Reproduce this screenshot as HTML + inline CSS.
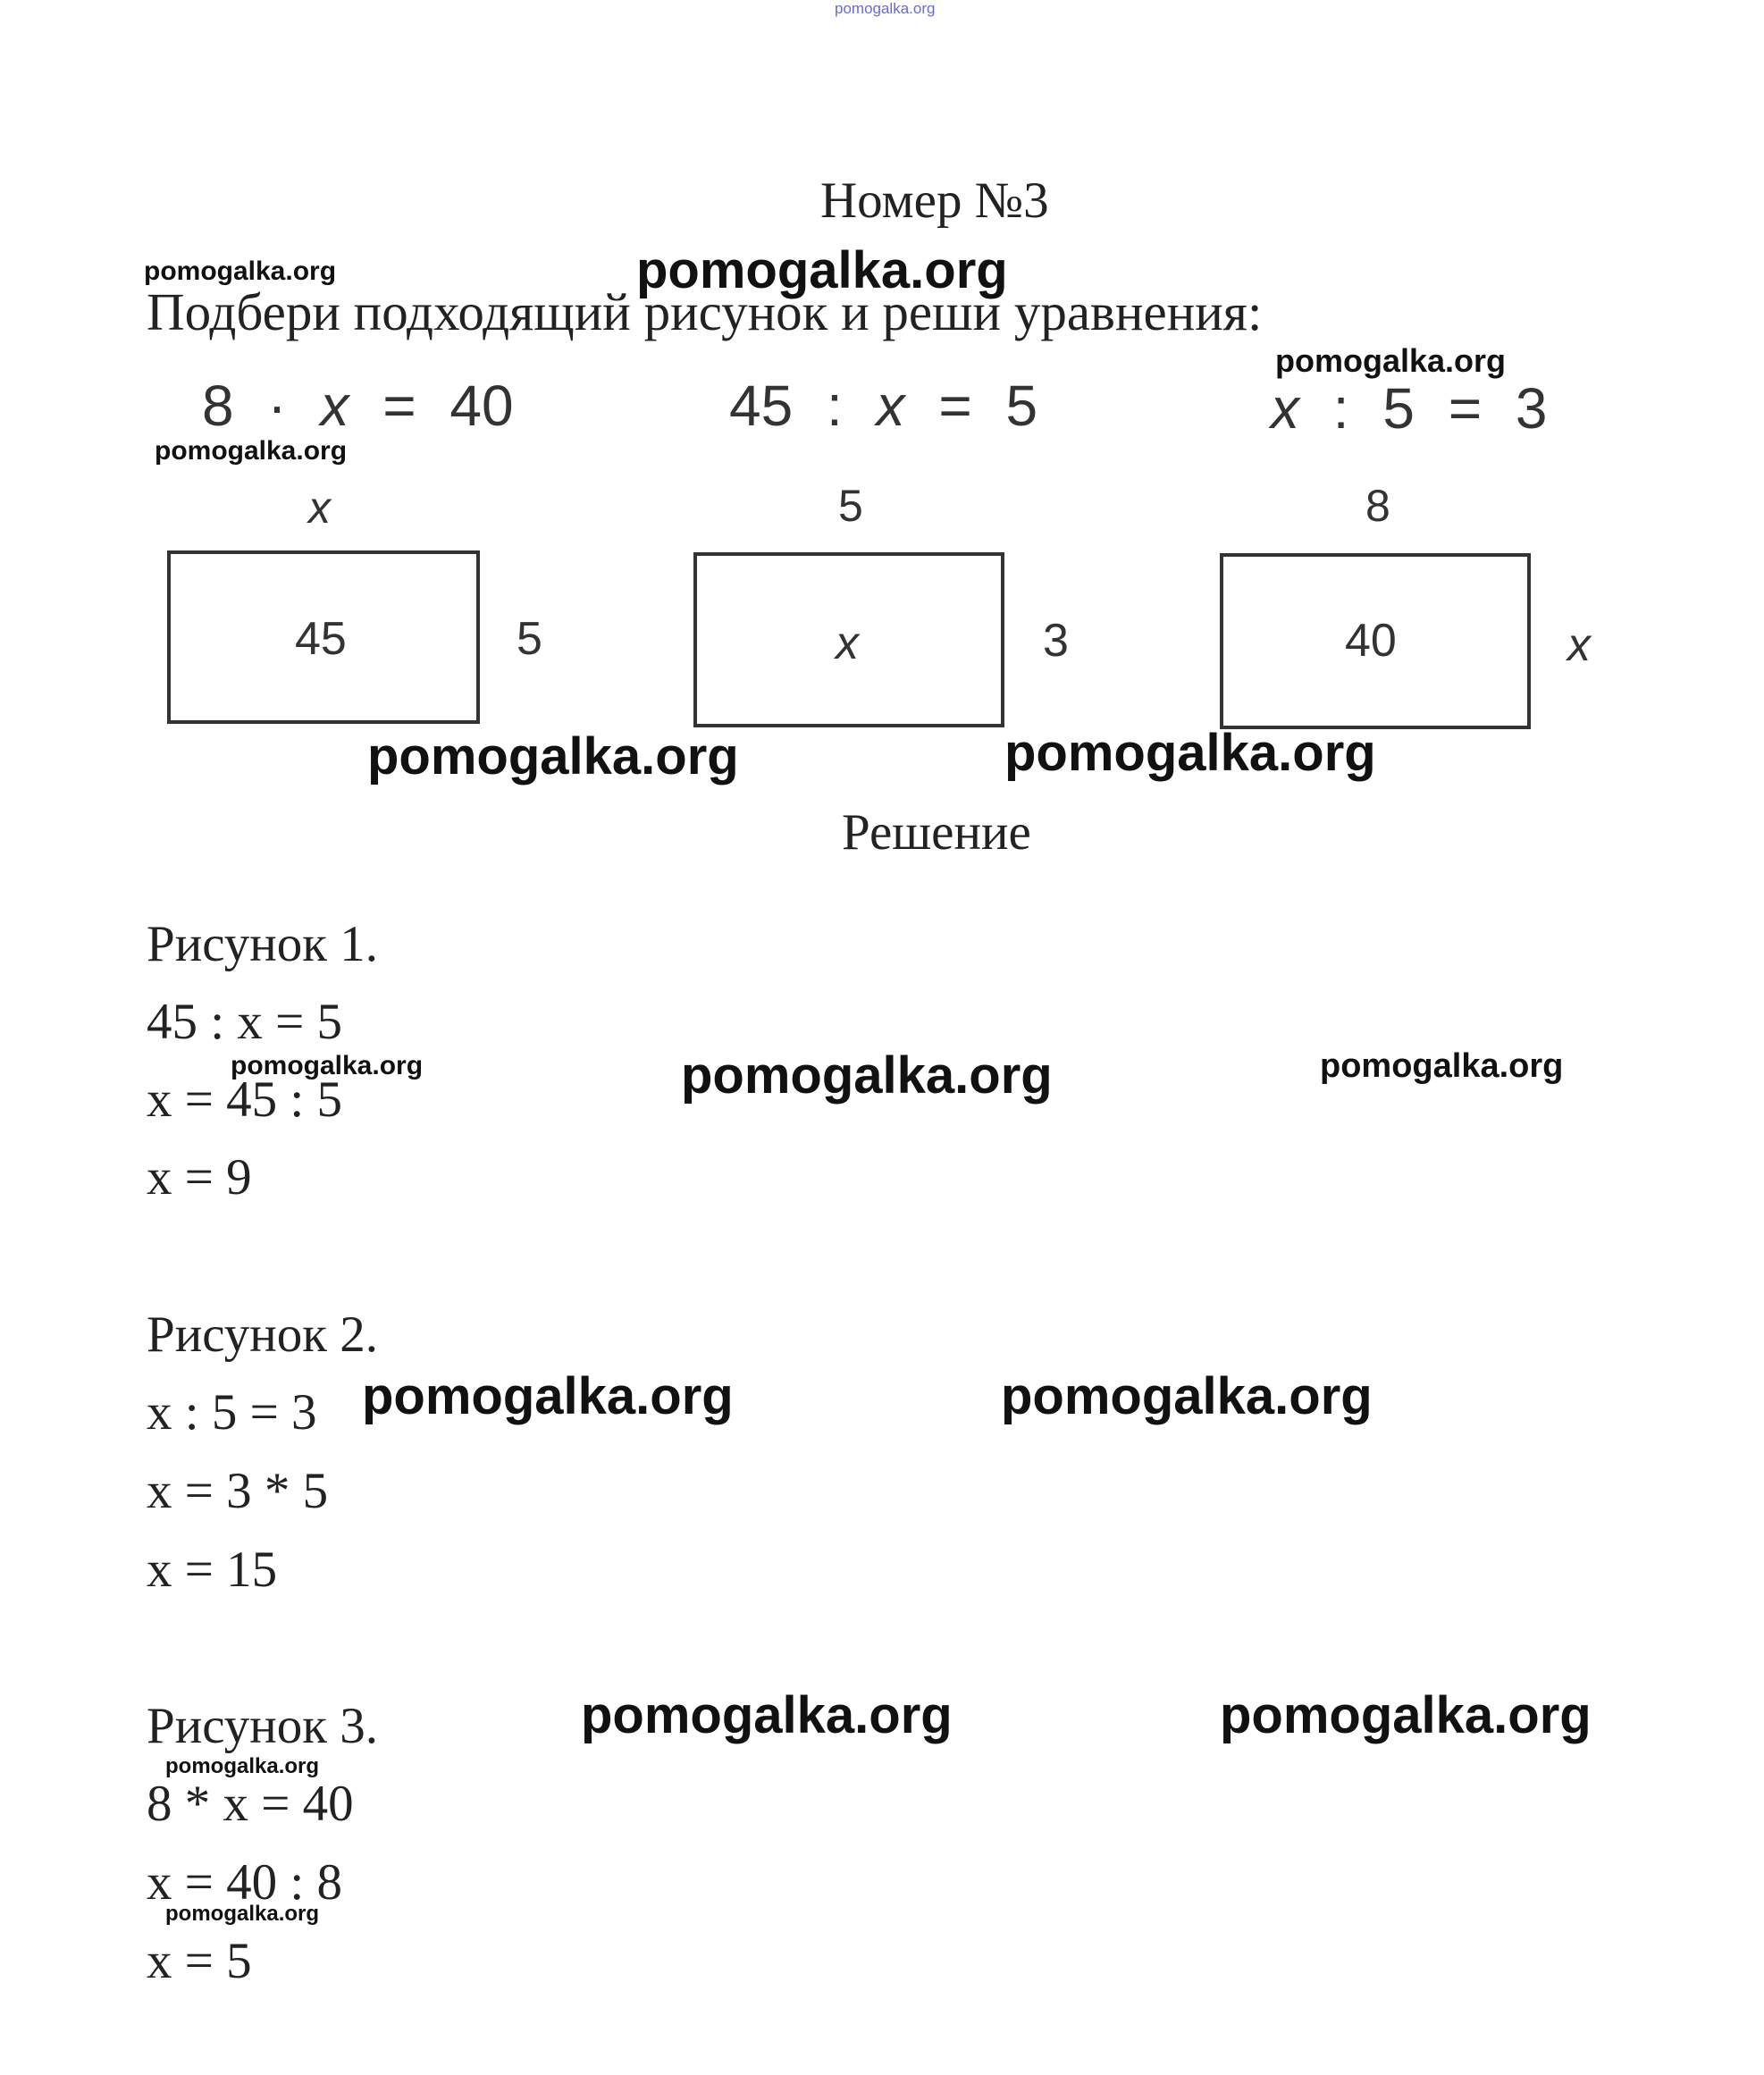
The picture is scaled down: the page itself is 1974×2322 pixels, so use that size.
<!DOCTYPE html>
<html><head><meta charset="utf-8"><style>
body{margin:0;width:1974px;height:2322px;background:#fff;position:relative;overflow:hidden}
.t{position:absolute;white-space:nowrap;line-height:1}
.s{font-family:"Liberation Serif",serif;font-size:57px;color:#222}
.w{font-family:"Liberation Sans",sans-serif;font-weight:bold;color:#111}
.e{font-family:"Liberation Sans",sans-serif;font-size:64px;color:#333}
.q{word-spacing:20px}
.box{position:absolute;border:4px solid #333;box-sizing:border-box}
</style></head><body>
<div class="t w" style="left:934px;top:1px;font-size:17px;color:#6a6ad0;font-weight:normal">pomogalka.org</div>
<div class="t s" style="left:918px;top:196px">Номер №3</div>
<div class="t w" style="left:161px;top:289px;font-size:30px">pomogalka.org</div>
<div class="t w" style="left:712px;top:274px;font-size:58px">pomogalka.org</div>
<div class="t s" style="left:164px;top:320px;font-size:59px">Подбери подходящий рисунок и реши уравнения:</div>
<div class="t w" style="left:1427px;top:386px;font-size:36px">pomogalka.org</div>
<div class="t e q" style="left:226px;top:422px">8 · <i>x</i> = 40</div>
<div class="t e q" style="left:816px;top:422px">45 : <i>x</i> = 5</div>
<div class="t e q" style="left:1422px;top:425px"><i>x</i> : 5 = 3</div>
<div class="t w" style="left:173px;top:490px;font-size:30px">pomogalka.org</div>
<div class="t e" style="left:345px;top:543px;font-size:50px"><i>x</i></div>
<div class="t e" style="left:938px;top:541px;font-size:50px">5</div>
<div class="t e" style="left:1528px;top:541px;font-size:50px">8</div>
<div class="box" style="left:187px;top:616px;width:350px;height:194px"></div>
<div class="box" style="left:776px;top:618px;width:348px;height:196px"></div>
<div class="box" style="left:1365px;top:619px;width:348px;height:197px"></div>
<div class="t e" style="left:330px;top:689px;font-size:52px">45</div>
<div class="t e" style="left:935px;top:694px;font-size:52px"><i>x</i></div>
<div class="t e" style="left:1505px;top:691px;font-size:52px">40</div>
<div class="t e" style="left:578px;top:689px;font-size:52px">5</div>
<div class="t e" style="left:1167px;top:691px;font-size:52px">3</div>
<div class="t e" style="left:1754px;top:696px;font-size:52px"><i>x</i></div>
<div class="t w" style="left:411px;top:818px;font-size:58px">pomogalka.org</div>
<div class="t w" style="left:1124px;top:814px;font-size:58px">pomogalka.org</div>
<div class="t s" style="left:942px;top:903px">Решение</div>
<div class="t s" style="left:164px;top:1028px">Рисунок 1.</div>
<div class="t s" style="left:164px;top:1115px">45 : x = 5</div>
<div class="t w" style="left:258px;top:1178px;font-size:30px">pomogalka.org</div>
<div class="t s" style="left:164px;top:1202px">x = 45 : 5</div>
<div class="t s" style="left:164px;top:1289px">x = 9</div>
<div class="t w" style="left:762px;top:1175px;font-size:58px">pomogalka.org</div>
<div class="t w" style="left:1477px;top:1174px;font-size:38px">pomogalka.org</div>
<div class="t s" style="left:164px;top:1465px">Рисунок 2.</div>
<div class="t s" style="left:164px;top:1552px">x : 5 = 3</div>
<div class="t s" style="left:164px;top:1640px">x = 3 * 5</div>
<div class="t s" style="left:164px;top:1728px">x = 15</div>
<div class="t w" style="left:405px;top:1534px;font-size:58px">pomogalka.org</div>
<div class="t w" style="left:1120px;top:1534px;font-size:58px">pomogalka.org</div>
<div class="t s" style="left:164px;top:1903px">Рисунок 3.</div>
<div class="t w" style="left:650px;top:1891px;font-size:58px">pomogalka.org</div>
<div class="t w" style="left:1365px;top:1891px;font-size:58px">pomogalka.org</div>
<div class="t w" style="left:185px;top:1965px;font-size:24px">pomogalka.org</div>
<div class="t s" style="left:164px;top:1990px">8 * x = 40</div>
<div class="t s" style="left:164px;top:2078px">x = 40 : 8</div>
<div class="t w" style="left:185px;top:2130px;font-size:24px">pomogalka.org</div>
<div class="t s" style="left:164px;top:2166px">x = 5</div>
</body></html>
